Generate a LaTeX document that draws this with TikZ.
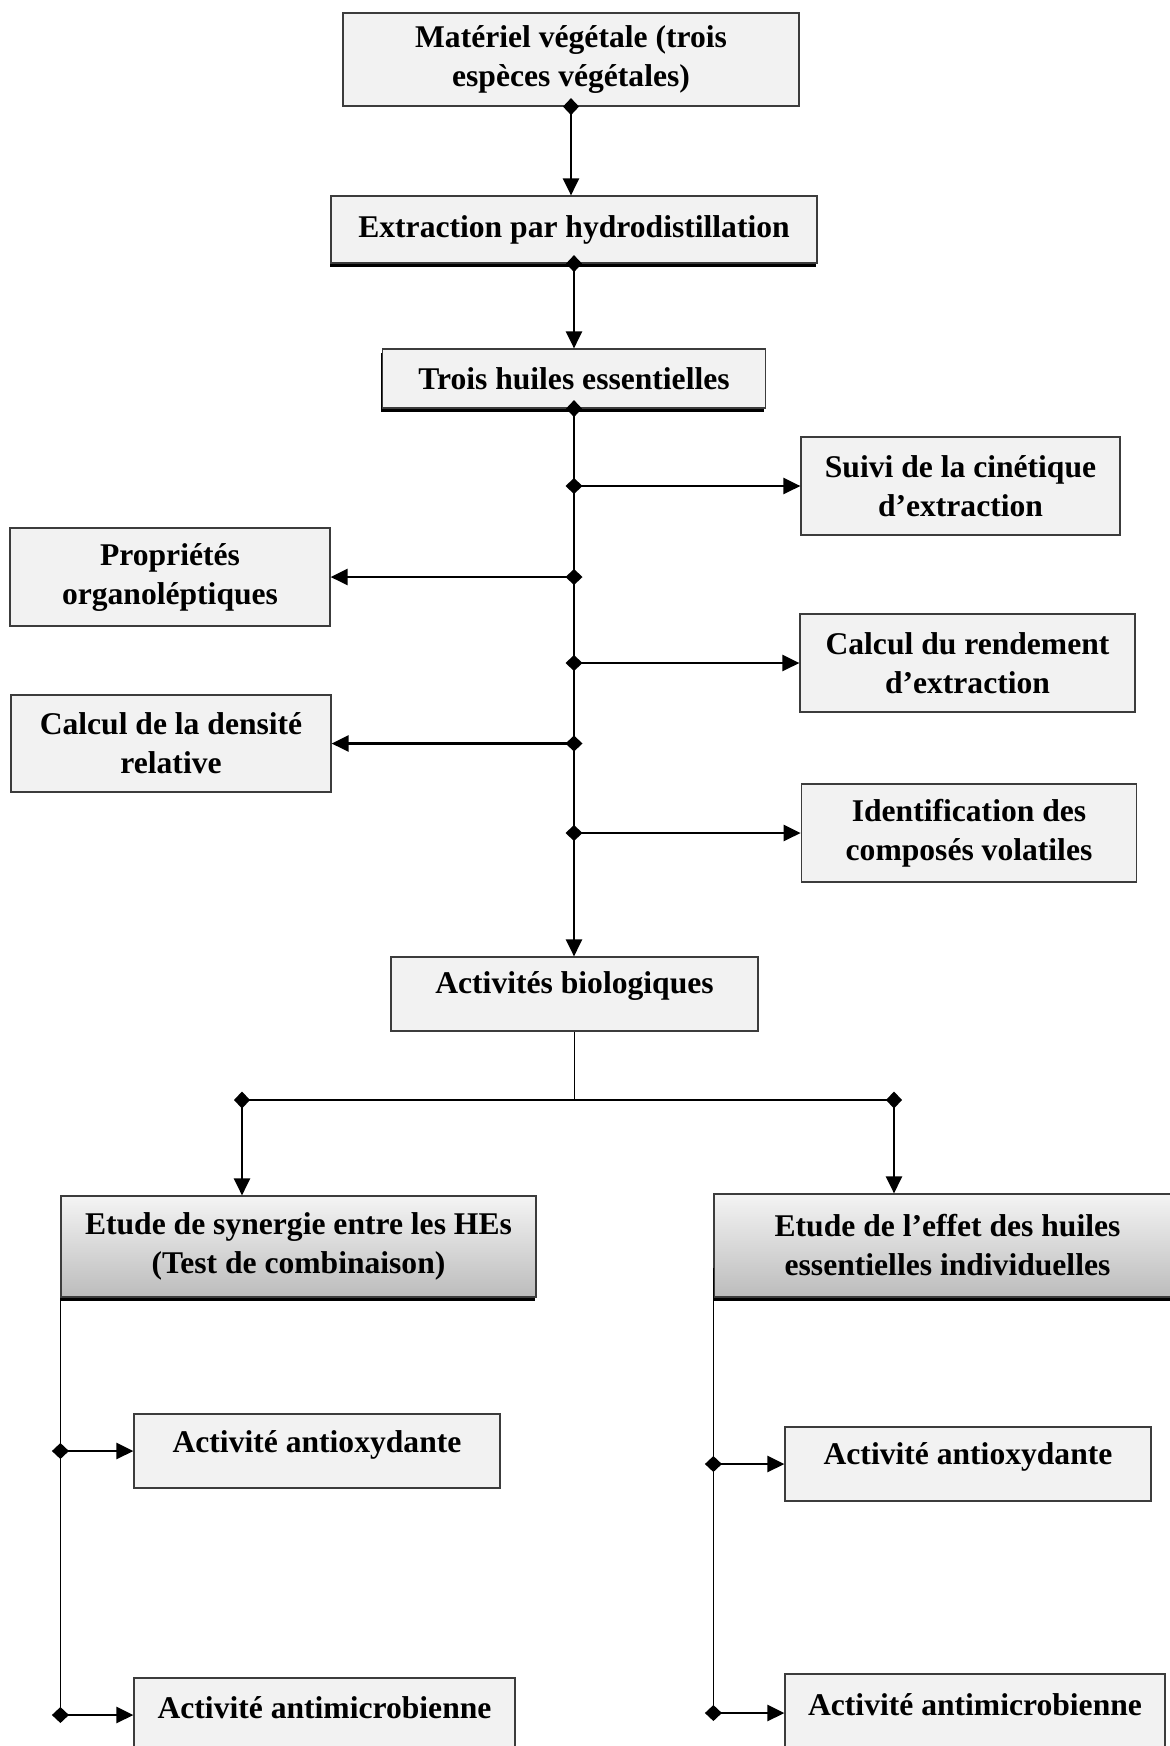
\documentclass[tikz,border=0pt]{standalone}
\usepackage{fontspec}
\setmainfont{Liberation Serif}
\usetikzlibrary{arrows.meta,shadows,calc}
\definecolor{boxgray}{RGB}{242,242,242}
\definecolor{gradtop}{RGB}{244,244,244}
\definecolor{gradbot}{RGB}{188,188,188}
\definecolor{edge}{RGB}{60,60,60}
\begin{document}
\begin{tikzpicture}[x=0.5pt,y=-0.5pt,
  txt/.style={font=\bfseries\fontsize{15.8}{19.5}\selectfont, align=center},
  box/.style={draw=edge, line width=0.6pt, fill=boxgray, inner sep=0pt, txt},
  shad/.style={drop shadow={shadow xshift=-0.75pt, shadow yshift=-2.2pt, opacity=1, fill=black}},
  grad/.style={draw=edge, line width=0.6pt, top color=gradtop, bottom color=gradbot, inner sep=0pt, txt},
  link/.style={line width=1.3pt, {Diamond[length=8.5pt,width=8pt]}-{Triangle[length=8.5pt,width=8pt]}, shorten <=-4.25pt},
  thinline/.style={line width=0.6pt, draw=black},
]
\useasboundingbox (0,0) rectangle (1169,1746);
\fill[white] (0,0) rectangle (1169,1746);

% top chain
\node[box, minimum width=228pt, minimum height=46.5pt] (b1) at (571,59.5) {Matériel végétale (trois\\espèces végétales)};
\node[box, shad, minimum width=243pt, minimum height=33.5pt] (b2) at (574,229.5) {Extraction par hydrodistillation};
\node[box, shad, minimum width=191.5pt, minimum height=29.5pt] (b3) at (574,378.5) {Trois huiles essentielles};

% side boxes
\node[box, minimum width=159.5pt, minimum height=49pt] (s1) at (960.5,486) {Suivi de la cinétique\\d’extraction};
\node[box, minimum width=160pt, minimum height=49pt] (p1) at (170,577) {Propriétés\\organoléptiques};
\node[box, minimum width=167.5pt, minimum height=49pt] (s2) at (967.5,663) {Calcul du rendement\\d’extraction};
\node[box, minimum width=160pt, minimum height=48.5pt] (p2) at (171,743.5) {Calcul de la densité\\relative};
\node[box, minimum width=167.75pt, minimum height=49pt] (s3) at (969,833) {Identification des\\composés volatiles};

% biological activities
\node[box, minimum width=183.5pt, minimum height=37pt, label={[txt,yshift=4pt]center:Activités biologiques}] (a) at (574.5,994) {};

\node[grad, shad, minimum width=237.5pt, minimum height=50.5pt] (e1) at (298.5,1246.5) {Etude de synergie entre les HEs\\(Test de combinaison)};
\node[grad, shad, minimum width=233.5pt, minimum height=51.5pt] (e2) at (947.5,1245.5) {Etude de l’effet des huiles\\essentielles individuelles};

\node[box, minimum width=183pt, minimum height=37pt, label={[txt,yshift=3pt]center:Activité antioxydante}] (lo1) at (317,1451) {};
\node[box, minimum width=190.5pt, minimum height=46pt, label={[txt,yshift=8pt]center:Activité antimicrobienne}] (lo2) at (324.5,1724) {};
\node[box, minimum width=183pt, minimum height=37pt, label={[txt,yshift=3.5pt]center:Activité antioxydante}] (ro1) at (968,1464) {};
\node[box, minimum width=190pt, minimum height=48pt, label={[txt,yshift=8.5pt]center:Activité antimicrobienne}] (ro2) at (975,1722) {};

% connectors top
\draw[link] (b1.south) -- (b1.south |- b2.north);
\draw[link] (b2.south) -- (b2.south |- b3.north);
\draw[link] (b3.south) -- (b3.south |- a.north);
\draw[link] (b3.south |- s1.west) -- (s1.west);
\draw[link] (b3.south |- p1.east) -- (p1.east);
\draw[link] (b3.south |- s2.west) -- (s2.west);
\draw[link] (b3.south |- p2.east) -- (p2.east);
\draw[link] (b3.south |- s3.west) -- (s3.west);

% split
\coordinate (hl) at (242,1100);
\coordinate (hr) at (894,1100);
\draw[thinline] (a.south) -- (a.south |- hl);
\draw[thinline] (hl) -- (hr);
\draw[link] (hl) -- (hl |- e1.north);
\draw[link] (hr) -- (hr |- e2.north);

% left column
\coordinate (ll1) at (e1.south west |- lo1.west);
\coordinate (ll2) at (e1.south west |- 0,1715);
\draw[thinline] (e1.south west) -- (ll2);
\draw[link] (ll1) -- (lo1.west);
\draw[link] (ll2) -- (ll2 -| lo2.west);

% right column
\coordinate (rtop) at ($(e2.south west)+(0,-30)$);
\coordinate (rl1) at (e2.south west |- ro1.west);
\coordinate (rl2) at (e2.south west |- 0,1713);
\draw[thinline] (rtop) -- (rl2);
\draw[link] (rl1) -- (ro1.west);
\draw[link] (rl2) -- (rl2 -| ro2.west);
\end{tikzpicture}
\end{document}
